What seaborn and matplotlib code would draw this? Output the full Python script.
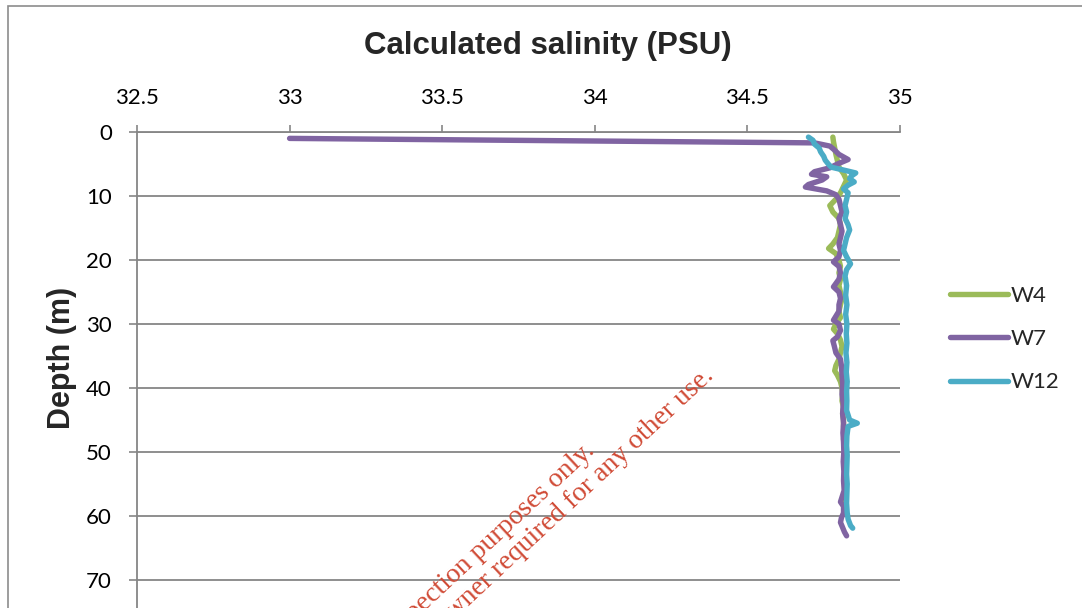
import matplotlib
matplotlib.use("Agg")
import matplotlib.pyplot as plt
import seaborn as sns
import pandas as pd
from matplotlib.patches import Rectangle

# ---------------- data ----------------
series_names = ["W4", "W7", "W12"]
series_colors = ["#9BBB59", "#8064A2", "#4BACC6"]

w4_depth = [0.8, 1.5, 2.5, 3.5, 4.5, 5.5, 6.5, 7.5, 8.5, 9.5, 10.5, 11.5, 12.5, 13.5,
            14.5, 15.5, 16.5, 17.5, 18.2, 19, 20, 21, 22, 23, 24, 25, 26, 27, 28, 29,
            30, 30.8, 31.5, 32.5, 33.5, 34.5, 35.5, 36.5, 37.3, 38, 39, 40, 41, 42, 43,
            44, 45, 46, 47, 48, 49, 50, 52, 54, 56, 58]
w4_sal = [34.780, 34.782, 34.786, 34.790, 34.795, 34.800, 34.815, 34.825, 34.815, 34.805,
          34.790, 34.770, 34.780, 34.800, 34.805, 34.800, 34.795, 34.780, 34.766, 34.790,
          34.800, 34.805, 34.800, 34.805, 34.800, 34.805, 34.810, 34.805, 34.800, 34.805,
          34.790, 34.782, 34.795, 34.805, 34.810, 34.805, 34.800, 34.790, 34.786, 34.795,
          34.805, 34.810, 34.812, 34.810, 34.815, 34.812, 34.815, 34.815, 34.818, 34.815,
          34.818, 34.820, 34.818, 34.820, 34.820, 34.822]

w7_depth = [1.0, 1.7, 2.2, 2.8, 3.5, 4.3, 5.0, 5.6, 6.2, 6.6, 7.0, 7.5, 8.2, 8.6, 9.2,
            9.8, 10.5, 11.5, 12.5, 13.5, 14.5, 15.5, 16.5, 17.5, 18.5, 19.5, 20.3, 21, 22,
            23, 24.2, 25, 26, 27, 28, 29.4, 30, 31, 32, 32.6, 33.5, 34.5, 35.5, 36.5, 38,
            39.5, 41, 42.5, 44, 45.5, 47, 48.5, 50, 51.5, 53, 54.5, 56, 57.8, 58.5, 59.5,
            60.3, 61, 61.8, 62.5, 63.1]
w7_sal = [33.000, 34.720, 34.770, 34.785, 34.800, 34.830, 34.795, 34.770, 34.720, 34.710,
          34.760, 34.745, 34.700, 34.690, 34.760, 34.790, 34.800, 34.805, 34.810, 34.800,
          34.805, 34.810, 34.805, 34.800, 34.805, 34.800, 34.782, 34.800, 34.805, 34.800,
          34.782, 34.800, 34.805, 34.800, 34.800, 34.782, 34.800, 34.805, 34.795, 34.780,
          34.785, 34.790, 34.805, 34.808, 34.810, 34.812, 34.810, 34.814, 34.812, 34.815,
          34.813, 34.815, 34.816, 34.814, 34.816, 34.815, 34.817, 34.805, 34.815, 34.815,
          34.808, 34.805, 34.812, 34.818, 34.825]

w12_depth = [0.8, 1.3, 1.9, 2.5, 3.1, 3.8, 4.4, 5.0, 5.5, 6.0, 6.4, 6.9, 7.3, 7.8, 8.3,
             8.9, 9.5, 10.5, 11.5, 12.5, 13.5, 14.5, 15.3, 16.5, 17.5, 18.5, 19.5, 20.6,
             21.5, 22.5, 24, 25.5, 27, 28.5, 30, 31.5, 33, 34.5, 36, 37.5, 39, 40.5, 42,
             43.5, 45.0, 45.5, 46, 47.5, 49, 50.5, 52, 53.5, 55, 56.5, 58, 59.5, 60.5,
             61.5, 61.9]
w12_sal = [34.700, 34.715, 34.720, 34.735, 34.740, 34.750, 34.755, 34.765, 34.775, 34.820,
           34.855, 34.840, 34.835, 34.850, 34.830, 34.815, 34.830, 34.825, 34.820, 34.825,
           34.820, 34.830, 34.835, 34.825, 34.820, 34.815, 34.825, 34.838, 34.825, 34.820,
           34.825, 34.822, 34.826, 34.822, 34.826, 34.824, 34.826, 34.823, 34.826, 34.824,
           34.827, 34.825, 34.826, 34.825, 34.835, 34.860, 34.830, 34.826, 34.825, 34.827,
           34.826, 34.825, 34.827, 34.826, 34.825, 34.827, 34.830, 34.838, 34.845]

x_ticks = [32.5, 33, 33.5, 34, 34.5, 35]
x_tick_labels = ["32.5", "33", "33.5", "34", "34.5", "35"]
y_ticks = [0, 10, 20, 30, 40, 50, 60, 70]

title = "Calculated salinity (PSU)"
y_label = "Depth (m)"
watermark1 = "For inspection purposes only."
watermark2 = "Consent of copyright owner required for any other use."

# ---------------- build frame ----------------
frames = []
for name, d, s in [("W4", w4_depth, w4_sal), ("W7", w7_depth, w7_sal), ("W12", w12_depth, w12_sal)]:
    frames.append(pd.DataFrame({"depth": d, "salinity": s, "series": name}))
df = pd.concat(frames, ignore_index=True)

sns.set_theme(style="white")
plt.rcParams["font.family"] = ["Lato", "DejaVu Sans"]

W, H = 1082, 608
fig = plt.figure(figsize=(W / 100, H / 100), dpi=100)
fig.patch.set_facecolor("white")

# axes position in pixels: left 137, right 900, top 132, depth 80 at 644
ax = fig.add_axes([137 / W, 1 - 644 / H, (900 - 137) / W, 512 / H])
ax.set_facecolor("white")

LW = 3.9
sns.lineplot(data=df, x="salinity", y="depth", hue="series", hue_order=series_names,
             palette=dict(zip(series_names, series_colors)), sort=False, estimator=None,
             linewidth=LW, ax=ax, legend=True, solid_capstyle="round", solid_joinstyle="round")

ax.set_xlim(32.5, 35)
ax.set_ylim(80, 0)
ax.xaxis.tick_top()
ax.set_xticks(x_ticks)
ax.set_xticklabels(x_tick_labels)
ax.set_yticks(y_ticks)
ax.set_yticklabels([str(t) for t in y_ticks])
ax.set_xlabel("")
ax.set_ylabel("")

grid_c = "#868686"
ax.yaxis.grid(True, color=grid_c, linewidth=1.3)
ax.xaxis.grid(False)
ax.set_axisbelow(True)
for sp in ["right", "bottom"]:
    ax.spines[sp].set_visible(False)
for sp in ["top", "left"]:
    ax.spines[sp].set_color(grid_c)
    ax.spines[sp].set_linewidth(1.3)
ax.tick_params(axis="x", which="major", top=True, bottom=False, direction="out",
               length=5, width=1.2, color=grid_c, labelsize=16, labelcolor="black", pad=12)
ax.tick_params(axis="y", which="major", left=True, direction="out",
               length=6, width=1.2, color=grid_c, labelsize=16, labelcolor="black", pad=12)

# legend
handles, labels = ax.get_legend_handles_labels()
ax.get_legend().remove()
leg = fig.legend(handles, labels, loc="center left", bbox_to_anchor=(950 / W, 1 - 339 / H),
                 bbox_transform=fig.transFigure, frameon=False, fontsize=16,
                 handlelength=2.6, handletextpad=0.15, labelspacing=1.05, borderpad=0,
                 borderaxespad=0)
for line in leg.get_lines():
    line.set_linewidth(LW)
    line.set_solid_capstyle("round")

# title and y label
fig.text(548 / W, 1 - 46 / H, title, ha="center", va="center", fontsize=22.5,
         fontweight="bold", family=["Liberation Sans", "DejaVu Sans"])
fig.text(62 / W, 1 - 358 / H, y_label, ha="center", va="center", rotation=90,
         fontsize=22, fontweight="bold", family=["Liberation Sans", "DejaVu Sans"])

# outer chart frame
fig.add_artist(Rectangle((8 / W, -0.2), 1.2, 1.2 - 6 / H, transform=fig.transFigure,
                         fill=False, edgecolor="#8C8C8C", linewidth=1.2, clip_on=False))

# watermark
wm_c = "#D04A35"
fig.text(596 / W, 1 - 452 / H, watermark1, ha="right", va="baseline", rotation=43,
         rotation_mode="anchor", color=wm_c, fontsize=20,
         family=["Liberation Serif", "DejaVu Serif"])
fig.text(715 / W, 1 - 377 / H, watermark2, ha="right", va="baseline", rotation=43,
         rotation_mode="anchor", color=wm_c, fontsize=20,
         family=["Liberation Serif", "DejaVu Serif"])

fig.savefig("out.png", dpi=100, facecolor="white")
